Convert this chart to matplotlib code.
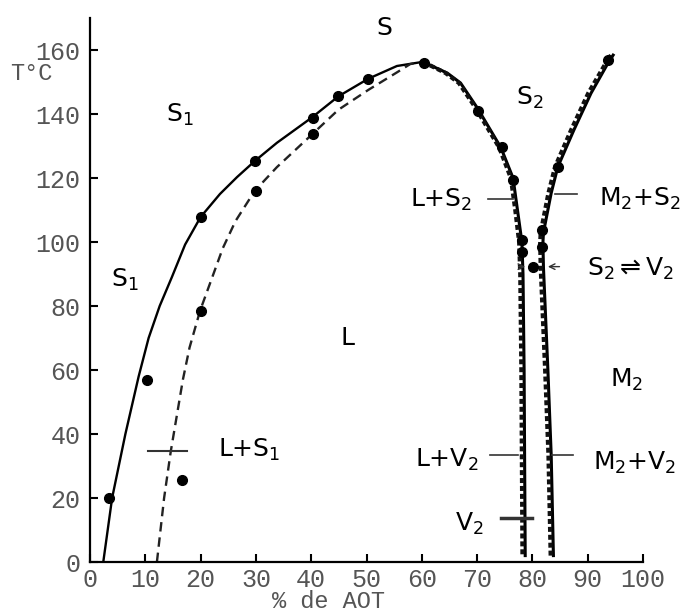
import matplotlib
matplotlib.use("Agg")
import matplotlib.pyplot as plt

plt.rcParams['mathtext.fontset'] = 'custom'
plt.rcParams['mathtext.rm'] = 'Open Sans'
plt.rcParams['mathtext.it'] = 'Open Sans'

# --- data ---
solid_left_x = [2.4, 4.0, 6.4, 8.8, 10.6, 12.6, 14.8, 17.2, 20.0, 23.5, 26.6, 29.8, 33.8, 40.2, 44.9, 50.3, 55.5, 60.2]
solid_left_y = [0.0, 20.0, 40.0, 58.0, 70.0, 80.0, 89.0, 99.2, 107.8, 115.0, 120.3, 125.3, 131.0, 139.0, 145.5, 151.0, 155.0, 156.3]

dashed_left_x = [12.1, 13.4, 14.6, 16.8, 18.0, 19.9, 21.9, 24.0, 26.3, 29.8, 33.8, 40.2, 44.9, 50.3, 55.5, 57.9, 60.2]
dashed_left_y = [0.0, 20.0, 34.5, 57.0, 67.0, 78.5, 88.0, 98.0, 106.5, 116.0, 123.4, 133.7, 141.3, 147.5, 153.0, 155.6, 156.3]

solid_desc_x = [60.2, 64.6, 67.0, 70.0, 74.3, 76.5, 77.3, 78.1, 78.3, 78.5, 78.6, 78.7]
solid_desc_y = [156.3, 152.8, 149.7, 142.0, 129.5, 120.0, 110.0, 100.0, 90.0, 60.0, 30.0, 2.0]
dashed_desc_x = [60.2, 64.3, 66.7, 69.7, 74.0, 76.1, 76.9, 77.6, 77.8, 78.0, 78.1, 78.2]
dashed_desc_y = [156.3, 152.8, 149.7, 142.0, 129.5, 120.0, 110.0, 100.0, 90.0, 60.0, 30.0, 2.0]

solid_right_x = [83.8, 83.4, 82.8, 82.0, 81.9, 82.0, 83.4, 84.6, 87.5, 90.6, 93.7, 94.6]
solid_right_y = [2.0, 33.4, 60.0, 92.0, 99.7, 103.0, 115.3, 123.5, 135.0, 146.5, 156.0, 158.4]
dashed_right_x = [83.3, 82.9, 82.3, 81.5, 81.4, 81.5, 82.9, 84.1, 87.0, 90.1, 93.3, 94.2]
dashed_right_y = [2.0, 33.4, 60.0, 92.0, 99.7, 103.0, 115.3, 123.5, 135.0, 146.5, 156.0, 158.4]

points_x = [3.4, 10.3, 16.6, 20.0, 20.0, 29.8, 30.1, 40.3, 40.3, 44.9, 50.3, 60.4,
            70.2, 74.5, 76.5, 78.1, 78.1, 80.1, 81.7, 81.7, 84.6, 93.7]
points_y = [20.0, 57.0, 25.6, 78.5, 107.8, 125.4, 116.0, 138.7, 133.7, 145.6, 151.0, 156.0,
            141.0, 129.7, 119.4, 100.6, 97.0, 92.3, 103.7, 98.5, 123.5, 157.0]

# horizontal region markers: (x0, x1, y, linewidth)
marks_x0 = [10.5, 72.0, 84.0, 72.3, 83.5, 74.3]
marks_x1 = [17.6, 76.5, 88.1, 77.4, 87.3, 79.9]
marks_y = [34.7, 113.4, 115.0, 33.4, 33.4, 13.7]
marks_lw = [1.5, 1.2, 1.2, 1.2, 1.2, 2.5]

labels = [r'$\mathregular{S}$', r'$\mathregular{S_1}$', r'$\mathregular{S_2}$', r'$\mathregular{S_1}$',
          r'$\mathregular{L}$', r'$\mathregular{L{+}S_1}$', r'$\mathregular{L{+}S_2}$',
          r'$\mathregular{M_2{+}S_2}$', r'$\mathregular{S_2 \rightleftharpoons V_2}$',
          r'$\mathregular{M_2}$', r'$\mathregular{L{+}V_2}$', r'$\mathregular{M_2{+}V_2}$',
          r'$\mathregular{V_2}$']
labels_x = [53.3, 16.3, 79.6, 6.3, 46.7, 23.1, 57.9, 92.0, 89.8, 94.0, 58.8, 91.0, 66.0]
labels_y = [167.0, 139.7, 145.0, 88.0, 70.0, 35.0, 113.0, 113.5, 91.5, 57.0, 32.0, 31.0, 12.0]
labels_ha = ['center', 'center', 'center', 'center', 'center', 'left', 'left', 'left', 'left',
             'left', 'left', 'left', 'left']

xticks = [0, 10, 20, 30, 40, 50, 60, 70, 80, 90, 100]
yticks = [0, 20, 40, 60, 80, 100, 120, 140, 160]

# --- figure ---
fig = plt.figure(figsize=(6.86, 6.16), dpi=100)
ax = fig.add_axes([90 / 686, 54 / 616, 553 / 686, 544 / 616])
ax.set_xlim(0, 100)
ax.set_ylim(0, 170)

ax.plot(solid_left_x, solid_left_y, color='black', lw=1.7, solid_joinstyle='round')
ax.plot(dashed_left_x, dashed_left_y, color='#222222', lw=1.7, dashes=(4, 2.5))
ax.plot(solid_desc_x, solid_desc_y, color='black', lw=2.2)
ax.plot(dashed_desc_x, dashed_desc_y, color='#111111', lw=3.0, dashes=(1.2, 0.7))
ax.plot(solid_right_x, solid_right_y, color='black', lw=2.2)
ax.plot(dashed_right_x, dashed_right_y, color='#111111', lw=3.0, dashes=(1.2, 0.7))

ax.plot(points_x, points_y, 'o', color='black', ms=7, zorder=5)

for x0, x1, y, lw in zip(marks_x0, marks_x1, marks_y, marks_lw):
    ax.plot([x0, x1], [y, y], color='#333333', lw=lw)

# arrows for S2 <-> V2
ax.annotate('', xy=(79.2, 92.3), xytext=(77.0, 92.3),
            arrowprops=dict(arrowstyle='->', color='#333333', lw=1.0))
ax.annotate('', xy=(82.3, 92.3), xytext=(85.4, 92.3),
            arrowprops=dict(arrowstyle='->', color='#333333', lw=1.0))

for t, x, y, ha in zip(labels, labels_x, labels_y, labels_ha):
    ax.text(x, y, t, ha=ha, va='center', fontsize=18, color='black', clip_on=False)

for s in ['top', 'right']:
    ax.spines[s].set_visible(False)
for s in ['left', 'bottom']:
    ax.spines[s].set_linewidth(1.6)

ax.set_xticks(xticks)
ax.set_yticks(yticks)
ax.tick_params(direction='in', length=6, width=1.5, labelsize=18, labelcolor='#555555')
ax.tick_params(axis='y', pad=7)
ax.tick_params(axis='x', pad=4)
for lab in ax.get_xticklabels() + ax.get_yticklabels():
    lab.set_fontfamily('Liberation Mono')

fig.text(10 / 686, 1 - 73 / 616, 'T°C', family='Liberation Mono', fontsize=17,
         color='#555555', va='center', ha='left')
fig.text(328 / 686, 1 - 602 / 616, '% de AOT', family='Liberation Mono', fontsize=17,
         color='#555555', va='center', ha='center')

fig.savefig('out.png', dpi=100)
